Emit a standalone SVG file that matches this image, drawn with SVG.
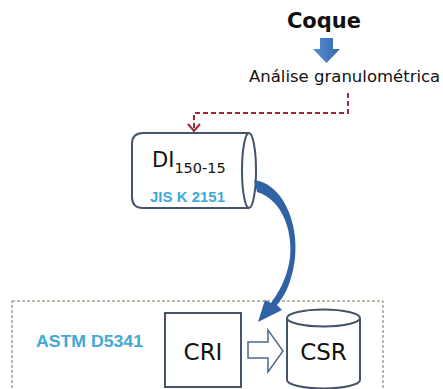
<svg xmlns="http://www.w3.org/2000/svg" width="443" height="389" viewBox="0 0 443 389">
  <style>
    .label { font-family: "DejaVu Sans", Verdana, sans-serif; fill: #111; }
    .std { font-family: "Liberation Sans", Arial, sans-serif; font-weight: bold; fill: #3fa9d6; }
    .outline { fill: #fff; stroke: #44546a; stroke-width: 2; }
    .feed { fill: none; stroke: #a3283a; stroke-width: 2; stroke-dasharray: 5 3; }
  </style>
  <defs>
    <linearGradient id="blueFill" x1="0" y1="0" x2="1" y2="0">
      <stop offset="0" stop-color="#5a8fd2"/>
      <stop offset="1" stop-color="#3567ad"/>
    </linearGradient>
  </defs>
  <rect width="443" height="389" fill="#fff"/>

  <!-- ASTM test area -->
  <g id="astm-area">
    <rect x="12" y="301" width="371" height="100" fill="none" stroke="#5f7f4f" stroke-width="1" stroke-dasharray="3 2"/>
    <text class="std" x="36" y="347" font-size="16" textLength="107" lengthAdjust="spacingAndGlyphs">ASTM D5341</text>
  </g>

  <!-- source material -->
  <g id="coque">
    <text class="label" x="324" y="28" font-size="21" font-weight="bold" text-anchor="middle">Coque</text>
  </g>

  <g id="analise">
    <text class="label" x="249" y="82" font-size="16.5">Análise granulométrica</text>
  </g>

  <!-- drum test cylinder -->
  <g id="di">
    <path class="outline" d="M249,133 L143,133 Q132,133 132,144 L132,197 Q132,208 143,208 L249,208"/>
    <ellipse class="outline" cx="249" cy="170.5" rx="7" ry="37.5"/>
    <text class="label" x="152" y="167" font-size="21">DI<tspan font-size="14.5" dy="6">150-15</tspan></text>
    <text class="std" x="150" y="202" font-size="15">JIS K 2151</text>
  </g>

  <g id="cri">
    <rect class="outline" x="165" y="313" width="76" height="74"/>
    <text class="label" x="203" y="360" font-size="23" text-anchor="middle">CRI</text>
  </g>

  <g id="csr">
    <path class="outline" d="M287,318 L287,380 A36.5,8.5 0 0 0 360,380 L360,318"/>
    <ellipse class="outline" cx="323.5" cy="318" rx="36.5" ry="8.5"/>
    <text class="label" x="323.5" y="360" font-size="23" text-anchor="middle">CSR</text>
  </g>

  <g id="connectors">
    <!-- Coque to analysis -->
    <polygon points="320,38 333,38 333,49 340,49 326.5,63 313,49 320,49" fill="url(#blueFill)"/>
    <!-- analysis feeds the drum test -->
    <polyline class="feed" points="348,93 348,113 194,113 194,129"/>
    <polyline points="188,124 194,131 200,124" fill="none" stroke="#a3283a" stroke-width="2"/>
    <!-- drum sample goes to reactivity test -->
    <path d="M254,180 C282,183 299,222 295,258 C292,283 284,297 277,305 L282,310 L258,322 L265,300 L271,303 C278,293 287,279 290,258 C293,229 281,199 257,192 Z" fill="#2f63a6"/>
    <!-- CRI to CSR -->
    <polygon points="248,342 268,342 268,330 283,351 268,372 268,358 248,358" fill="#fff" stroke="#4a6a8c" stroke-width="1.5" stroke-linejoin="miter"/>
  </g>
</svg>
